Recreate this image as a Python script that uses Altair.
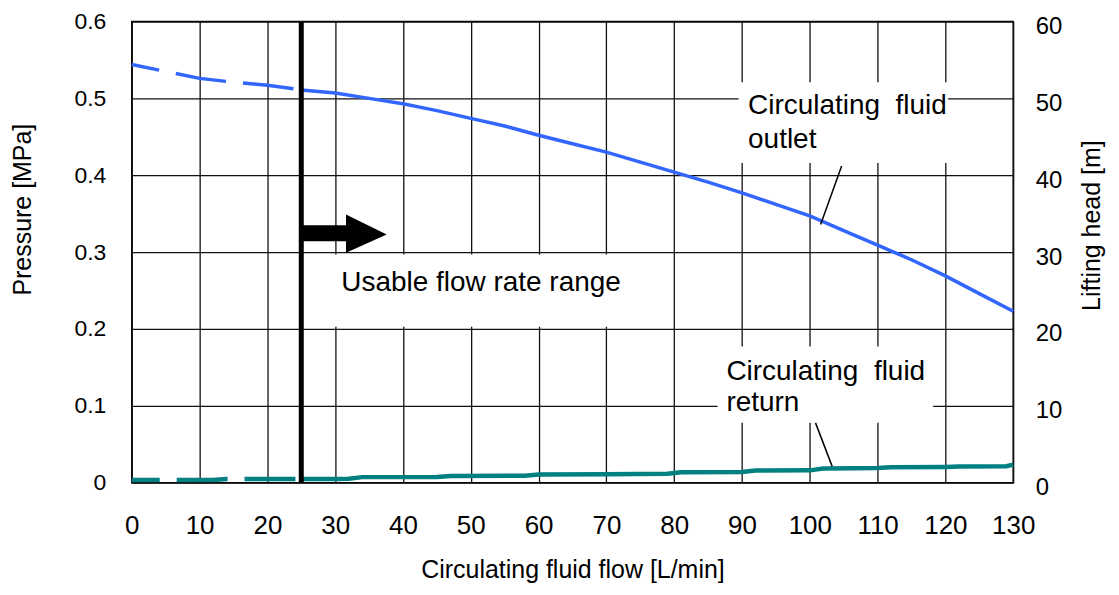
import altair as alt
import pandas as pd

FONT = "Liberation Sans"

# ---- data ----
outlet_flow = [0, 5, 10, 15, 20, 25, 30, 35, 40, 45, 50, 55, 60, 65, 70, 75, 80, 85,
               90, 95, 100, 105, 110, 115, 120, 125, 130]
outlet_mpa = [0.544, 0.535, 0.526, 0.521, 0.517, 0.511, 0.507, 0.500, 0.493, 0.484,
              0.474, 0.464, 0.452, 0.441, 0.430, 0.417, 0.404, 0.391, 0.377, 0.362,
              0.347, 0.328, 0.309, 0.290, 0.269, 0.246, 0.223]

return_flow = [0, 12, 14, 25, 30, 32, 34, 45, 47, 58, 60, 70, 79, 81, 90, 92, 100,
               102, 110, 112, 120, 122, 129, 130]
return_mpa = [0.0035, 0.0035, 0.0048, 0.0048, 0.0048, 0.0052, 0.0072, 0.0075, 0.0087,
              0.0090, 0.0105, 0.0110, 0.0115, 0.0135, 0.0140, 0.0157, 0.0160, 0.0185,
              0.0190, 0.0200, 0.0205, 0.0210, 0.0215, 0.0235]

usable_limit = 25  # L/min, start of usable range

x_ticks = [0, 10, 20, 30, 40, 50, 60, 70, 80, 90, 100, 110, 120, 130]
y_ticks = [0, 0.1, 0.2, 0.3, 0.4, 0.5, 0.6]
head_ticks = [0, 10, 20, 30, 40, 50, 60]

# annotation boxes (data units)
box_x1 = [89.5, 86.4, 25.6]
box_x2 = [120.4, 118.2, 79.6]
box_y1 = [0.416, 0.078, 0.203]
box_y2 = [0.521, 0.177, 0.297]

label_text = ["Circulating\u00a0 fluid", "outlet", "Circulating\u00a0 fluid", "return",
              "Usable flow rate range"]
label_x = [90.9, 90.9, 87.7, 87.7, 30.9]
label_y = [0.479, 0.436, 0.134, 0.093, 0.249]

leader_id = ["o", "o", "r", "r"]
leader_x = [104.7, 101.6, 100.85, 103.3]
leader_y = [0.412, 0.336, 0.0778, 0.0212]

# arrow (shaft + head)
shaft_x = [24.9, 31.7]
shaft_y = [0.314, 0.335]
head_x = [31.6, 37.6]
head_lo = [0.299, 0.323]
head_hi = [0.349, 0.323]

# ---- tables ----
split = outlet_flow.index(usable_limit)
out_dash = pd.DataFrame({"flow": outlet_flow[:split + 1], "p": outlet_mpa[:split + 1]})
out_solid = pd.DataFrame({"flow": outlet_flow[split:], "p": outlet_mpa[split:]})
rsplit = return_flow.index(usable_limit)
ret_dash = pd.DataFrame({"flow": return_flow[:rsplit + 1], "p": return_mpa[:rsplit + 1]})
ret_solid = pd.DataFrame({"flow": return_flow[rsplit:], "p": return_mpa[rsplit:]})

boxes = pd.DataFrame({"flow": box_x1, "flow2": box_x2, "p": box_y1, "p2": box_y2})
labels = pd.DataFrame({"flow": label_x, "p": label_y, "t": label_text})
leaders = pd.DataFrame({"id": leader_id, "flow": leader_x, "p": leader_y})
shaft = pd.DataFrame({"flow": [shaft_x[0]], "flow2": [shaft_x[1]],
                      "p": [shaft_y[0]], "p2": [shaft_y[1]]})
head = pd.DataFrame({"flow": head_x, "p": head_lo, "p2": head_hi})
limit = pd.DataFrame({"flow": [usable_limit], "p": [0.0], "p2": [0.6]})
head_axis = pd.DataFrame({"head": [0, 60]})

xscale = alt.Scale(domain=[0, 130], nice=False, zero=False)
yscale = alt.Scale(domain=[0, 0.6], nice=False, zero=False)

xaxis = alt.Axis(values=x_ticks, title="Circulating fluid flow [L/min]", grid=True,
                 ticks=False, domain=False, labelPadding=30, titlePadding=19,
                 labelFontSize=26, titleFontSize=25)
yaxis = alt.Axis(values=y_ticks, title="Pressure [MPa]", grid=True, ticks=False,
                 domain=False, labelPadding=26, titlePadding=38, titleY=188,
                 labelFontSize=23, titleFontSize=25,
                 labelExpr="datum.value == 0 ? '0' : format(datum.value, '.1f')")


def X(field="flow"):
    return alt.X(f"{field}:Q", scale=xscale, axis=xaxis)


def Y(field="p"):
    return alt.Y(f"{field}:Q", scale=yscale, axis=yaxis)


BLUE = "#3366ff"
TEAL = "#008080"
DASH = [51, 17]

l_out_dash = alt.Chart(out_dash).mark_line(color=BLUE, strokeWidth=3.5, strokeDash=DASH,
                                           strokeDashOffset=23).encode(x=X(), y=Y())
l_out_solid = alt.Chart(out_solid).mark_line(color=BLUE, strokeWidth=3.5).encode(x=X(), y=Y())
l_ret_dash = alt.Chart(ret_dash).mark_line(color=TEAL, strokeWidth=4.5, strokeDash=DASH,
                                           strokeDashOffset=23).encode(x=X(), y=Y())
l_ret_solid = alt.Chart(ret_solid).mark_line(color=TEAL, strokeWidth=4.5).encode(x=X(), y=Y())

l_boxes = alt.Chart(boxes).mark_rect(fill="white", stroke=None).encode(
    x=X(), x2="flow2:Q", y=Y(), y2="p2:Q")
l_labels = alt.Chart(labels).mark_text(align="left", baseline="alphabetic", fontSize=28,
                                       font=FONT, color="black").encode(
    x=X(), y=Y(), text="t:N")
l_leaders = alt.Chart(leaders).mark_line(color="black", strokeWidth=1.5).encode(
    x=X(), y=Y(), detail="id:N")
l_shaft = alt.Chart(shaft).mark_rect(fill="black").encode(
    x=X(), x2="flow2:Q", y=Y(), y2="p2:Q")
l_head = alt.Chart(head).mark_area(color="black", opacity=1).encode(
    x=X(), y=Y(), y2="p2:Q")
l_limit = alt.Chart(limit).mark_rule(color="black", strokeWidth=5).encode(
    x=X(), y=Y(), y2="p2:Q")

main = alt.layer(l_out_dash, l_out_solid, l_ret_dash, l_ret_solid, l_boxes, l_labels,
                 l_leaders, l_shaft, l_head, l_limit)

right = alt.Chart(head_axis).mark_point(opacity=0).encode(
    x=X("head"),
    y=alt.Y("head:Q", scale=alt.Scale(domain=[0, 60], nice=False),
            axis=alt.Axis(orient="right", values=head_ticks, title="Lifting head [m]",
                          grid=False, ticks=False, domain=False, labelPadding=22,
                          titlePadding=18, titleY=204, titleAngle=270,
                          titleBaseline="top", labelOffset=5,
                          labelFontSize=24, titleFontSize=25)))

chart = alt.layer(main, right).resolve_scale(y="independent").properties(
    width=883, height=462,
    autosize=alt.AutoSizeParams(type="none"),
    padding={"left": 124, "top": 13, "right": 98, "bottom": 100},
).configure_view(stroke="black", strokeWidth=1.5).configure_axis(
    gridColor="#111", gridWidth=1.3, gridOpacity=1, labelFont=FONT, titleFont=FONT,
    labelColor="black", titleColor="black", titleFontWeight="normal", labelFlush=False,
    labelOverlap=False
)

chart.save("out.html", embed_options={"renderer": "svg", "actions": False})
